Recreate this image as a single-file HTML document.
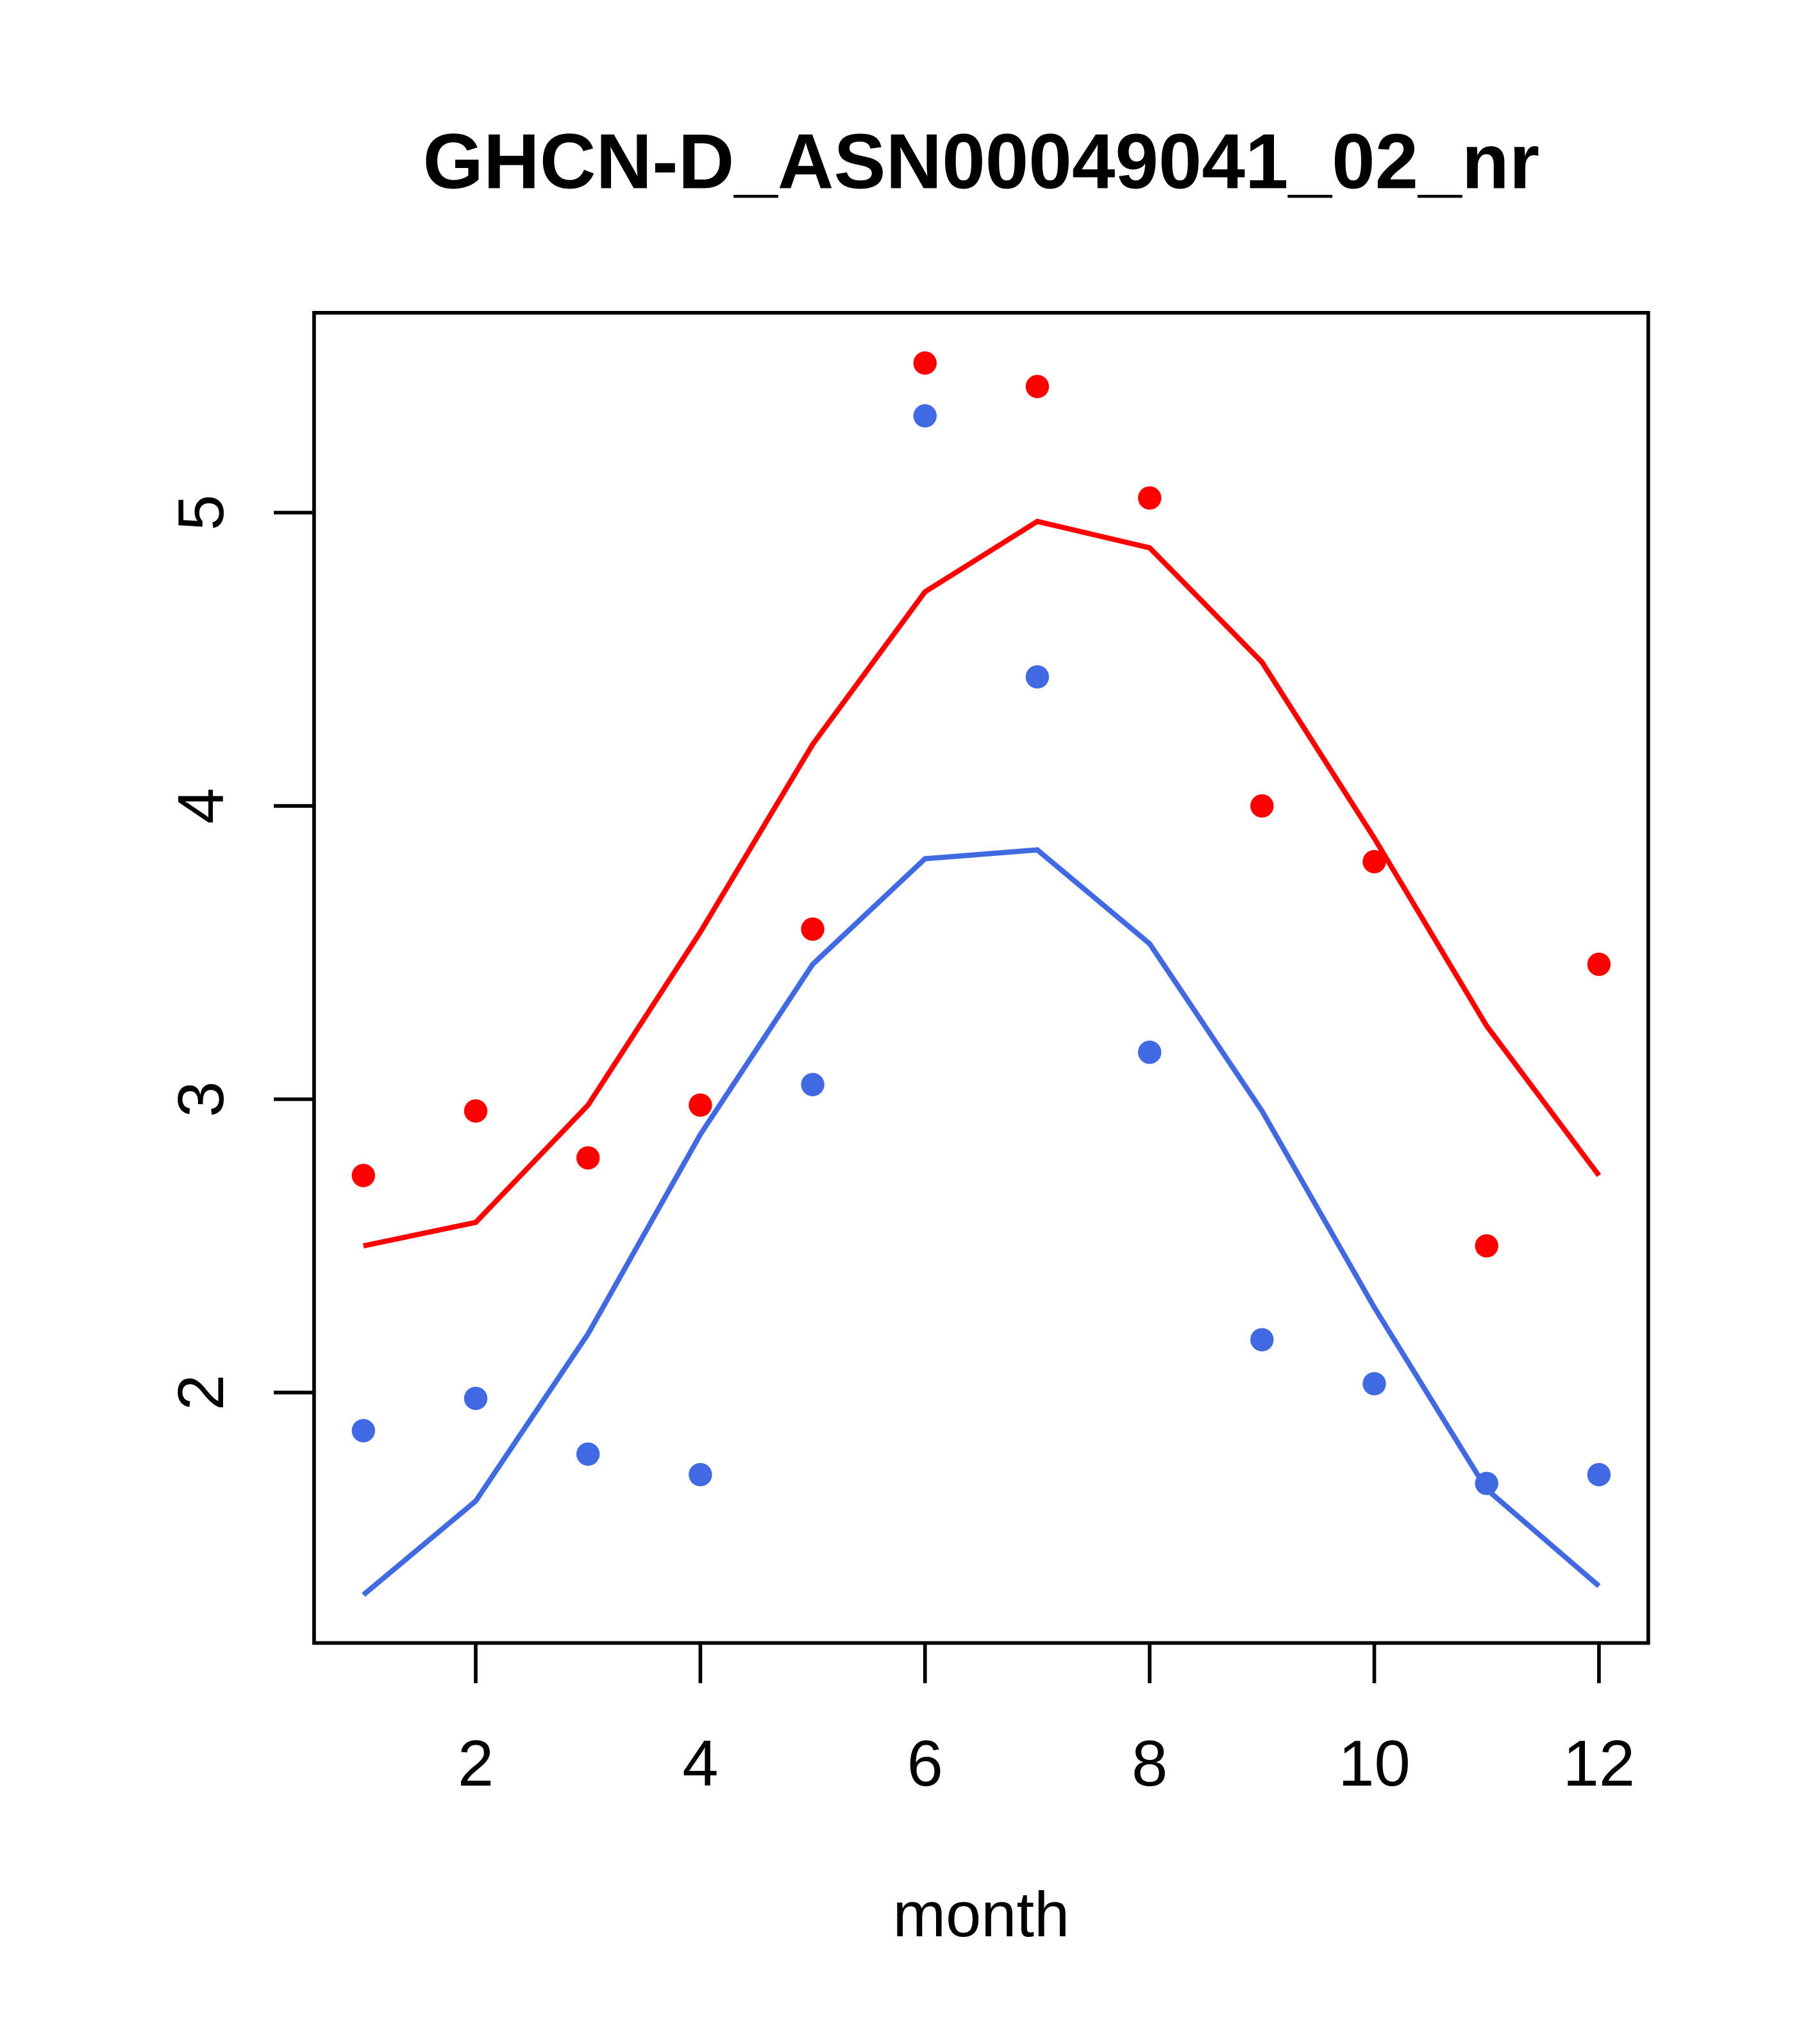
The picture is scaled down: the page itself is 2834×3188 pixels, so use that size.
<!DOCTYPE html>
<html><head><meta charset="utf-8"><style>html,body{margin:0;padding:0;background:#fff}svg{display:block}</style></head>
<body>
<svg id="chart" width="2834" height="3188" viewBox="0 0 1400 1575" preserveAspectRatio="none" xmlns="http://www.w3.org/2000/svg" font-family="Liberation Sans, sans-serif">
<text x="756" y="145" font-size="60" font-weight="bold" text-anchor="middle">GHCN-D_ASN00049041_02_nr</text>
<rect x="242" y="241" width="1028" height="1025" fill="none" stroke="#000" stroke-width="2.8"/>
<text x="756" y="1492" font-size="49" text-anchor="middle">month</text>
<g id="axes"></g>
<g id="marks"></g>
</svg>
<script>
const months=[1,2,3,4,5,6,7,8,9,10,11,12];
const redPoints=[2.74,2.96,2.80,2.98,3.58,5.51,5.43,5.05,4.00,3.81,2.50,3.46];
const redLine=[2.50,2.58,2.98,3.57,4.21,4.73,4.97,4.88,4.49,3.89,3.25,2.74];
const bluePoints=[1.87,1.98,1.79,1.72,3.05,5.33,4.44,3.16,2.18,2.03,1.69,1.72];
const blueLine=[1.31,1.63,2.20,2.88,3.46,3.82,3.85,3.53,2.96,2.29,1.67,1.34];
const xTicks=[2,4,6,8,10,12];
const yTicks=[2,3,4,5];
const NS='http://www.w3.org/2000/svg';
const xs=m=>280+(m-1)*(1232-280)/11;
const ys=v=>395+(5-v)*226;
const axes=document.getElementById('axes'),marks=document.getElementById('marks');
function mk(tag,attrs,parent){const e=document.createElementNS(NS,tag);for(const k in attrs)e.setAttribute(k,attrs[k]);parent.appendChild(e);return e;}
xTicks.forEach(t=>{
  const l=mk('line',{x1:xs(t),x2:xs(t),y1:1266,y2:1297,stroke:'#000','stroke-width':2.8},axes);
  
  
  const tx=mk('text',{x:xs(t),y:1376,'font-size':50,'text-anchor':'middle'},axes);tx.textContent=t;
  
  
});
yTicks.forEach(t=>{
  const l=mk('line',{x1:242,x2:211,y1:ys(t),y2:ys(t),stroke:'#000','stroke-width':2.8},axes);
  
  
  const tx=mk('text',{x:0,y:0,'font-size':50,'text-anchor':'middle',transform:`translate(172,${ys(t)}) rotate(-90)`},axes);tx.textContent=t;
  
  
});
function line(vals,color,name){
  const p=mk('polyline',{points:vals.map((v,i)=>xs(months[i])+','+ys(v)).join(' '),fill:'none',stroke:color,'stroke-width':4},marks);
  
  
}
function pts(vals,color,name){
  vals.forEach((v,i)=>{
    const c=mk('circle',{cx:xs(months[i]),cy:ys(v),r:9,fill:color},marks);
    
    
  });
}
line(redLine,'#ff0000','red-line');
line(blueLine,'#4169e1','blue-line');
pts(redPoints,'#ff0000','red-point');
pts(bluePoints,'#4169e1','blue-point');
</script>
</body></html>
